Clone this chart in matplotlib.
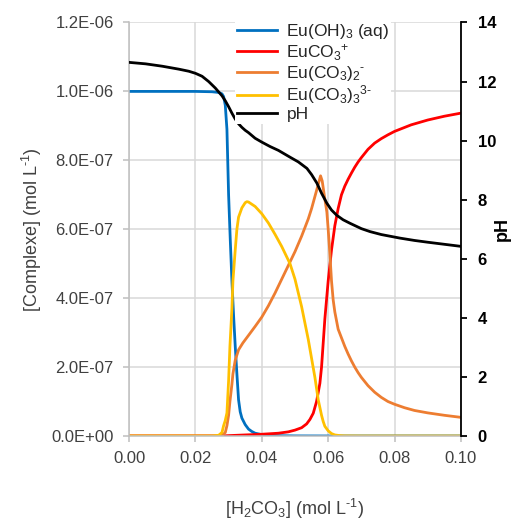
import numpy as np
import matplotlib
matplotlib.use("Agg")
import matplotlib.pyplot as plt
from matplotlib.ticker import FuncFormatter, MultipleLocator

plt.rcParams['font.family'] = ['Liberation Sans', 'DejaVu Sans']
plt.rcParams['mathtext.default'] = 'regular'

HY = '\u2010'  # short hyphen as in the reference, not the long math minus

#--- data (concentrations in 1e-7 mol/L, x = [H2CO3] in mol/L)
x_oh = [0, 0.01, 0.02, 0.025, 0.027, 0.028, 0.0285, 0.029, 0.0295, 0.030, 0.0305, 0.031,
        0.0315, 0.032, 0.0325, 0.033, 0.0335, 0.034, 0.035, 0.036, 0.037, 0.038, 0.040,
        0.042, 0.045, 0.05, 0.06, 0.08, 0.10]
eu_oh3 = [10, 10, 10, 9.99, 9.97, 9.93, 9.85, 9.6, 8.9, 7.0, 5.7, 4.5,
          3.5, 2.6, 1.8, 1.05, 0.7, 0.52, 0.33, 0.2, 0.13, 0.08, 0.04,
          0.02, 0.008, 0.002, 0, 0, 0]

x_co3 = [0, 0.028, 0.030, 0.035, 0.040, 0.045, 0.048, 0.050, 0.052, 0.0535, 0.0545, 0.0555,
         0.0565, 0.0575, 0.058, 0.0585, 0.059, 0.060, 0.061, 0.062, 0.063, 0.064, 0.065,
         0.066, 0.067, 0.068, 0.069, 0.070, 0.072, 0.074, 0.076, 0.078, 0.080, 0.085,
         0.090, 0.095, 0.10]
eu_co3 = [0, 0, 0.01, 0.03, 0.05, 0.08, 0.12, 0.17, 0.24, 0.35, 0.48, 0.66,
          1.0, 1.53, 2.0, 2.7, 3.4, 4.5, 5.4, 6.1, 6.6, 7.0, 7.25,
          7.45, 7.63, 7.8, 7.95, 8.08, 8.32, 8.5, 8.63, 8.74, 8.84, 9.03,
          9.17, 9.28, 9.37]

x_co3_2 = [0, 0.027, 0.028, 0.029, 0.0295, 0.030, 0.0304, 0.031, 0.0313, 0.032, 0.0325, 0.033,
           0.0343, 0.036, 0.038, 0.040, 0.042, 0.044, 0.046, 0.048, 0.050, 0.052, 0.054,
           0.055, 0.056, 0.057, 0.0577, 0.0582, 0.0588, 0.0596, 0.060, 0.0605, 0.061, 0.0615,
           0.062, 0.063, 0.064, 0.065, 0.066, 0.067, 0.068, 0.069, 0.070, 0.072, 0.074,
           0.076, 0.078, 0.080, 0.083, 0.086, 0.090, 0.095, 0.10]
eu_co3_2 = [0, 0, 0.02, 0.1, 0.3, 0.6, 1.0, 1.5, 1.8, 2.2, 2.35, 2.5,
            2.7, 2.92, 3.18, 3.45, 3.78, 4.15, 4.55, 4.95, 5.35, 5.8, 6.3,
            6.6, 6.95, 7.3, 7.55, 7.4, 7.0, 6.5, 6.0, 5.3, 4.5, 3.95,
            3.6, 3.1, 2.85, 2.6, 2.38, 2.18, 2.0, 1.84, 1.7, 1.46, 1.27,
            1.12, 1.0, 0.92, 0.82, 0.74, 0.67, 0.6, 0.54]

x_co3_3 = [0, 0.025, 0.027, 0.028, 0.0285, 0.029, 0.0295, 0.030, 0.0304, 0.031, 0.0313, 0.032,
           0.0325, 0.033, 0.034, 0.035, 0.0355, 0.036, 0.038, 0.040, 0.042, 0.044, 0.046,
           0.0485, 0.050, 0.052, 0.054, 0.055, 0.056, 0.057, 0.058, 0.0585, 0.059, 0.060,
           0.061, 0.062, 0.0636, 0.065, 0.07, 0.10]
eu_co3_3 = [0, 0, 0.02, 0.1, 0.3, 0.45, 0.67, 1.6, 2.6, 3.7, 4.5, 5.4,
            6.0, 6.35, 6.62, 6.77, 6.8, 6.79, 6.66, 6.45, 6.18, 5.85, 5.5,
            5.0, 4.55, 3.75, 2.8, 2.25, 1.7, 1.05, 0.6, 0.42, 0.28, 0.15,
            0.07, 0.03, 0.01, 0.003, 0, 0]

x_ph = [0, 0.005, 0.010, 0.015, 0.018, 0.020, 0.022, 0.024, 0.026, 0.027, 0.028, 0.029,
        0.030, 0.031, 0.032, 0.033, 0.034, 0.035, 0.036, 0.038, 0.040, 0.0425, 0.045,
        0.0485, 0.051, 0.0536, 0.055, 0.0566, 0.058, 0.0596, 0.061, 0.0626, 0.0645,
        0.0666, 0.070, 0.0726, 0.076, 0.0816, 0.086, 0.090, 0.095, 0.10]
ph = [12.65, 12.6, 12.52, 12.42, 12.35, 12.28, 12.18, 12.0, 11.78, 11.65, 11.52, 11.35,
      11.15, 10.93, 10.73, 10.57, 10.45, 10.35, 10.27, 10.08, 9.95, 9.8, 9.67,
      9.44, 9.28, 9.06, 8.85, 8.56, 8.22, 7.88, 7.65, 7.47, 7.32,
      7.2, 7.02, 6.92, 6.82, 6.7, 6.62, 6.56, 6.49, 6.42]

labels = ['Eu(OH)$_3$ (aq)', 'EuCO$_3$$^{{+}}$', 'Eu(CO$_3$)$_2$$^{' + HY + '}$',
          'Eu(CO$_3$)$_3$$^{3' + HY + '}$', 'pH']
colors = ['#0070C0', '#FF0000', '#ED7D31', '#FFC000', '#000000']

fig = plt.figure(figsize=(5.15, 5.22), dpi=100)
ax = fig.add_axes([0.2505, 0.1648, 0.6446, 0.7921])
ax2 = ax.twinx()

series = [(x_oh, eu_oh3), (x_co3, eu_co3), (x_co3_2, eu_co3_2), (x_co3_3, eu_co3_3)]
handles = []
for (xs, ys), lab, col in zip(series, labels[:4], colors[:4]):
    h, = ax.plot(xs, np.array(ys) * 1e-7, color=col, lw=2, label=lab)
    handles.append(h)
h, = ax2.plot(x_ph, ph, color=colors[4], lw=2, label=labels[4])
handles.append(h)

#--- left axis
ax.set_xlim(0, 0.1)
ax.set_ylim(0, 1.2e-6)
ax.xaxis.set_major_locator(MultipleLocator(0.02))
ax.yaxis.set_major_locator(MultipleLocator(0.2e-6))
ax.xaxis.set_major_formatter(FuncFormatter(lambda v, p: "%.2f" % v))
ax.yaxis.set_major_formatter(FuncFormatter(lambda v, p: "%.1E" % v))
ax.grid(True, color='#D9D9D9', lw=1.1)
ax.set_axisbelow(True)
for s in ['top', 'right']:
    ax.spines[s].set_visible(False)
for s in ['left', 'bottom']:
    ax.spines[s].set_color('#BFBFBF')
    ax.spines[s].set_linewidth(1.1)
ax.tick_params(axis='both', colors='#BFBFBF', labelcolor='#404040', labelsize=12, length=4, width=1.1)
ax.tick_params(axis='y', pad=7)
ax.tick_params(axis='x', pad=7)
ax.set_ylabel('[Complexe] (mol L$^{' + HY + '1}$)', fontsize=13, color='#404040', labelpad=5)
ax.set_xlabel('[H$_2$CO$_3$] (mol L$^{' + HY + '1}$)', fontsize=13, color='#404040', labelpad=22)

#--- right axis (pH)
ax2.set_ylim(0, 14)
ax2.yaxis.set_major_locator(MultipleLocator(2))
for s in ['top', 'left', 'bottom']:
    ax2.spines[s].set_visible(False)
ax2.spines['right'].set_color('black')
ax2.spines['right'].set_linewidth(1.3)
ax2.tick_params(axis='y', colors='black', labelsize=12, length=4, width=1.3, pad=8)
for t in ax2.get_yticklabels():
    t.set_fontweight('bold')
ax2.set_ylabel('pH', fontsize=13, fontweight='bold', labelpad=-2)

leg = ax2.legend(handles, labels, loc='upper left', bbox_to_anchor=(0.32, 1.005),
                 fontsize=12.5, frameon=True, facecolor='white', edgecolor='none', framealpha=1,
                 borderpad=0.1, borderaxespad=0, labelspacing=0.05, handlelength=2.3,
                 handletextpad=0.55, fancybox=False)
for t in leg.get_texts():
    t.set_color('#262626')

fig.savefig('out.png', dpi=100)
